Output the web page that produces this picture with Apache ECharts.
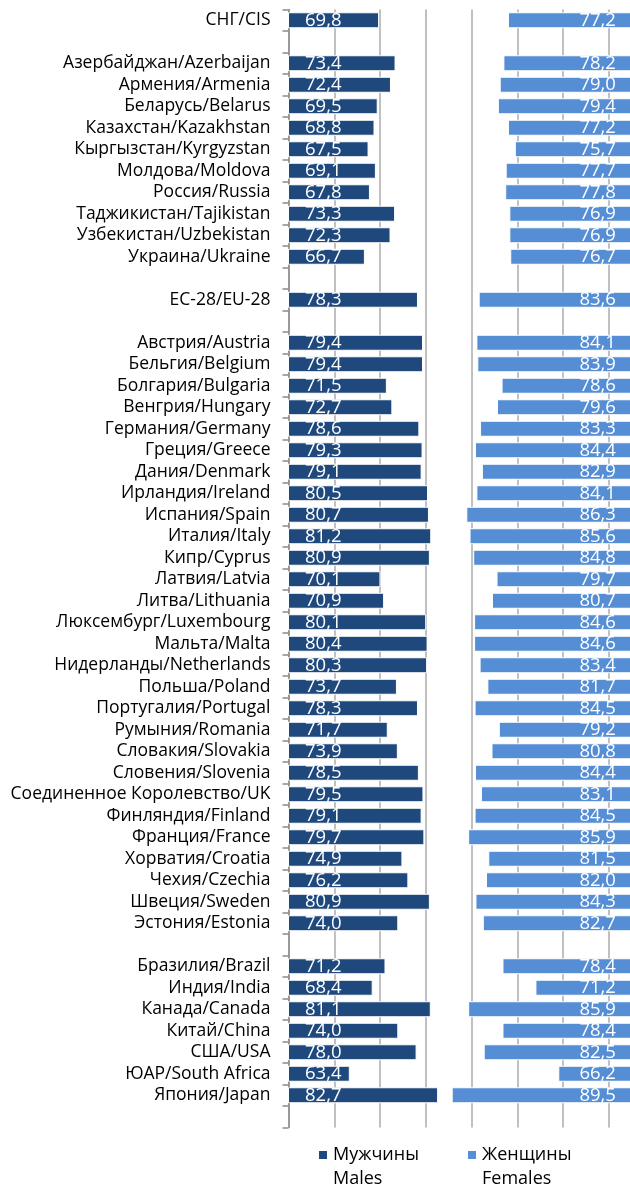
<!DOCTYPE html>
<html>
<head>
<meta charset="utf-8">
<script src="https://cdn.jsdelivr.net/npm/echarts@6/dist/echarts.min.js"></script>
<style>
html,body{margin:0;padding:0;background:#fff;}
#chart{width:630px;height:1191px;}
</style>
</head>
<body>
<div id="chart"></div>
<script>
// ---- Data ----
var cisTotalName = ['СНГ/CIS'];
var cisTotalMale = [69.8];
var cisTotalFemale = [77.2];

var cisNames = ['Азербайджан/Azerbaijan','Армения/Armenia','Беларусь/Belarus','Казахстан/Kazakhstan','Кыргызстан/Kyrgyzstan','Молдова/Moldova','Россия/Russia','Таджикистан/Tajikistan','Узбекистан/Uzbekistan','Украина/Ukraine'];
var cisMale =   [73.4,72.4,69.5,68.8,67.5,69.1,67.8,73.3,72.3,66.7];
var cisFemale = [78.2,79.0,79.4,77.2,75.7,77.7,77.8,76.9,76.9,76.7];

var euTotalName = ['ЕС-28/EU-28'];
var euTotalMale = [78.3];
var euTotalFemale = [83.6];

var euNames = ['Австрия/Austria','Бельгия/Belgium','Болгария/Bulgaria','Венгрия/Hungary','Германия/Germany','Греция/Greece','Дания/Denmark','Ирландия/Ireland','Испания/Spain','Италия/Italy','Кипр/Cyprus','Латвия/Latvia','Литва/Lithuania','Люксембург/Luxembourg','Мальта/Malta','Нидерланды/Netherlands','Польша/Poland','Португалия/Portugal','Румыния/Romania','Словакия/Slovakia','Словения/Slovenia','Соединенное Королевство/UK','Финляндия/Finland','Франция/France','Хорватия/Croatia','Чехия/Czechia','Швеция/Sweden','Эстония/Estonia'];
var euMale =   [79.4,79.4,71.5,72.7,78.6,79.3,79.1,80.5,80.7,81.2,80.9,70.1,70.9,80.1,80.4,80.3,73.7,78.3,71.7,73.9,78.5,79.5,79.1,79.7,74.9,76.2,80.9,74.0];
var euFemale = [84.1,83.9,78.6,79.6,83.3,84.4,82.9,84.1,86.3,85.6,84.8,79.7,80.7,84.6,84.6,83.4,81.7,84.5,79.2,80.8,84.4,83.1,84.5,85.9,81.5,82.0,84.3,82.7];

var otherNames = ['Бразилия/Brazil','Индия/India','Канада/Canada','Китай/China','США/USA','ЮАР/South Africa','Япония/Japan'];
var otherMale =   [71.2,68.4,81.1,74.0,78.0,63.4,82.7];
var otherFemale = [78.4,71.2,85.9,78.4,82.5,66.2,89.5];

var maleName = 'Мужчины\nMales';
var femaleName = 'Женщины\nFemales';

// ---- Build category list with blank separator rows ----
var groups = [
  [cisTotalName, cisTotalMale, cisTotalFemale],
  [cisNames, cisMale, cisFemale],
  [euTotalName, euTotalMale, euTotalFemale],
  [euNames, euMale, euFemale],
  [otherNames, otherMale, otherFemale]
];
var categories = [], maleData = [], femaleData = [];
var blank = ' ';
groups.forEach(function (g) {
  for (var i = 0; i < g[0].length; i++) {
    categories.push(g[0][i]); maleData.push(g[1][i]); femaleData.push(g[2][i]);
  }
  categories.push(blank); maleData.push(null); femaleData.push(null);
  blank += ' ';
});

var FONT = 'Open Sans';
var MALE = '#1F497D', FEMALE = '#558ED5', GRID = '#ababab', AXIS = '#8c8c8c';
var fmt = function (p) { return p.value == null ? '' : p.value.toFixed(1).replace('.', ','); };

var chart = echarts.init(document.getElementById('chart'), null, {renderer: 'canvas'});
var TOP = 9.5, H = 1118;
chart.setOption({
  animation: false,
  backgroundColor: '#fff',
  textStyle: {fontFamily: FONT},
  grid: [
    {left: 288.5, top: TOP, width: 366, height: H, outerBoundsMode: 'none', containLabel: false},
    {left: 449.4, top: TOP, width: 183, height: H, outerBoundsMode: 'none', containLabel: false}
  ],
  xAxis: [
    {gridIndex: 0, type: 'value', min: 50, max: 130, interval: 10,
     axisLabel: {show: false}, axisLine: {show: false}, axisTick: {show: false},
     splitLine: {show: true, lineStyle: {color: GRID, width: 1.5}}},
    {gridIndex: 1, type: 'value', min: 50, max: 90, inverse: true,
     axisLabel: {show: false}, axisLine: {show: false}, axisTick: {show: false},
     splitLine: {show: false}}
  ],
  yAxis: [
    {gridIndex: 0, type: 'category', inverse: true, data: categories,
     axisLine: {show: true, lineStyle: {color: AXIS, width: 1.5}},
     axisTick: {show: true, length: 6, lineStyle: {color: AXIS, width: 1.5}},
     axisLabel: {fontFamily: FONT, fontSize: 17.5, color: '#000', margin: 18, interval: 0}},
    {gridIndex: 1, type: 'category', inverse: true, data: categories,
     axisLine: {show: false}, axisTick: {show: false}, axisLabel: {show: false}}
  ],
  legend: {
    left: 317, top: 1119, padding: 0, itemWidth: 10, itemHeight: 10, itemGap: 47, icon: 'rect',
    data: [maleName, femaleName],
    formatter: function (name) { return '\n' + name; },
    textStyle: {fontFamily: FONT, fontSize: 18, color: '#000', lineHeight: 24}
  },
  series: [
    {name: maleName, type: 'bar', xAxisIndex: 0, yAxisIndex: 0, data: maleData,
     barWidth: 16, itemStyle: {color: MALE, borderColor: '#fff', borderWidth: 1},
     label: {show: true, position: 'insideLeft', padding: [0, 0, 0, 12], color: '#fff',
             fontFamily: FONT, fontSize: 18.5, formatter: fmt}},
    {name: femaleName, type: 'bar', xAxisIndex: 1, yAxisIndex: 1, data: femaleData,
     barWidth: 16, itemStyle: {color: FEMALE, borderColor: '#fff', borderWidth: 1},
     label: {show: true, position: 'insideRight', distance: 17, color: '#fff',
             fontFamily: FONT, fontSize: 18.5, formatter: fmt}}
  ]
});
</script>
</body>
</html>
